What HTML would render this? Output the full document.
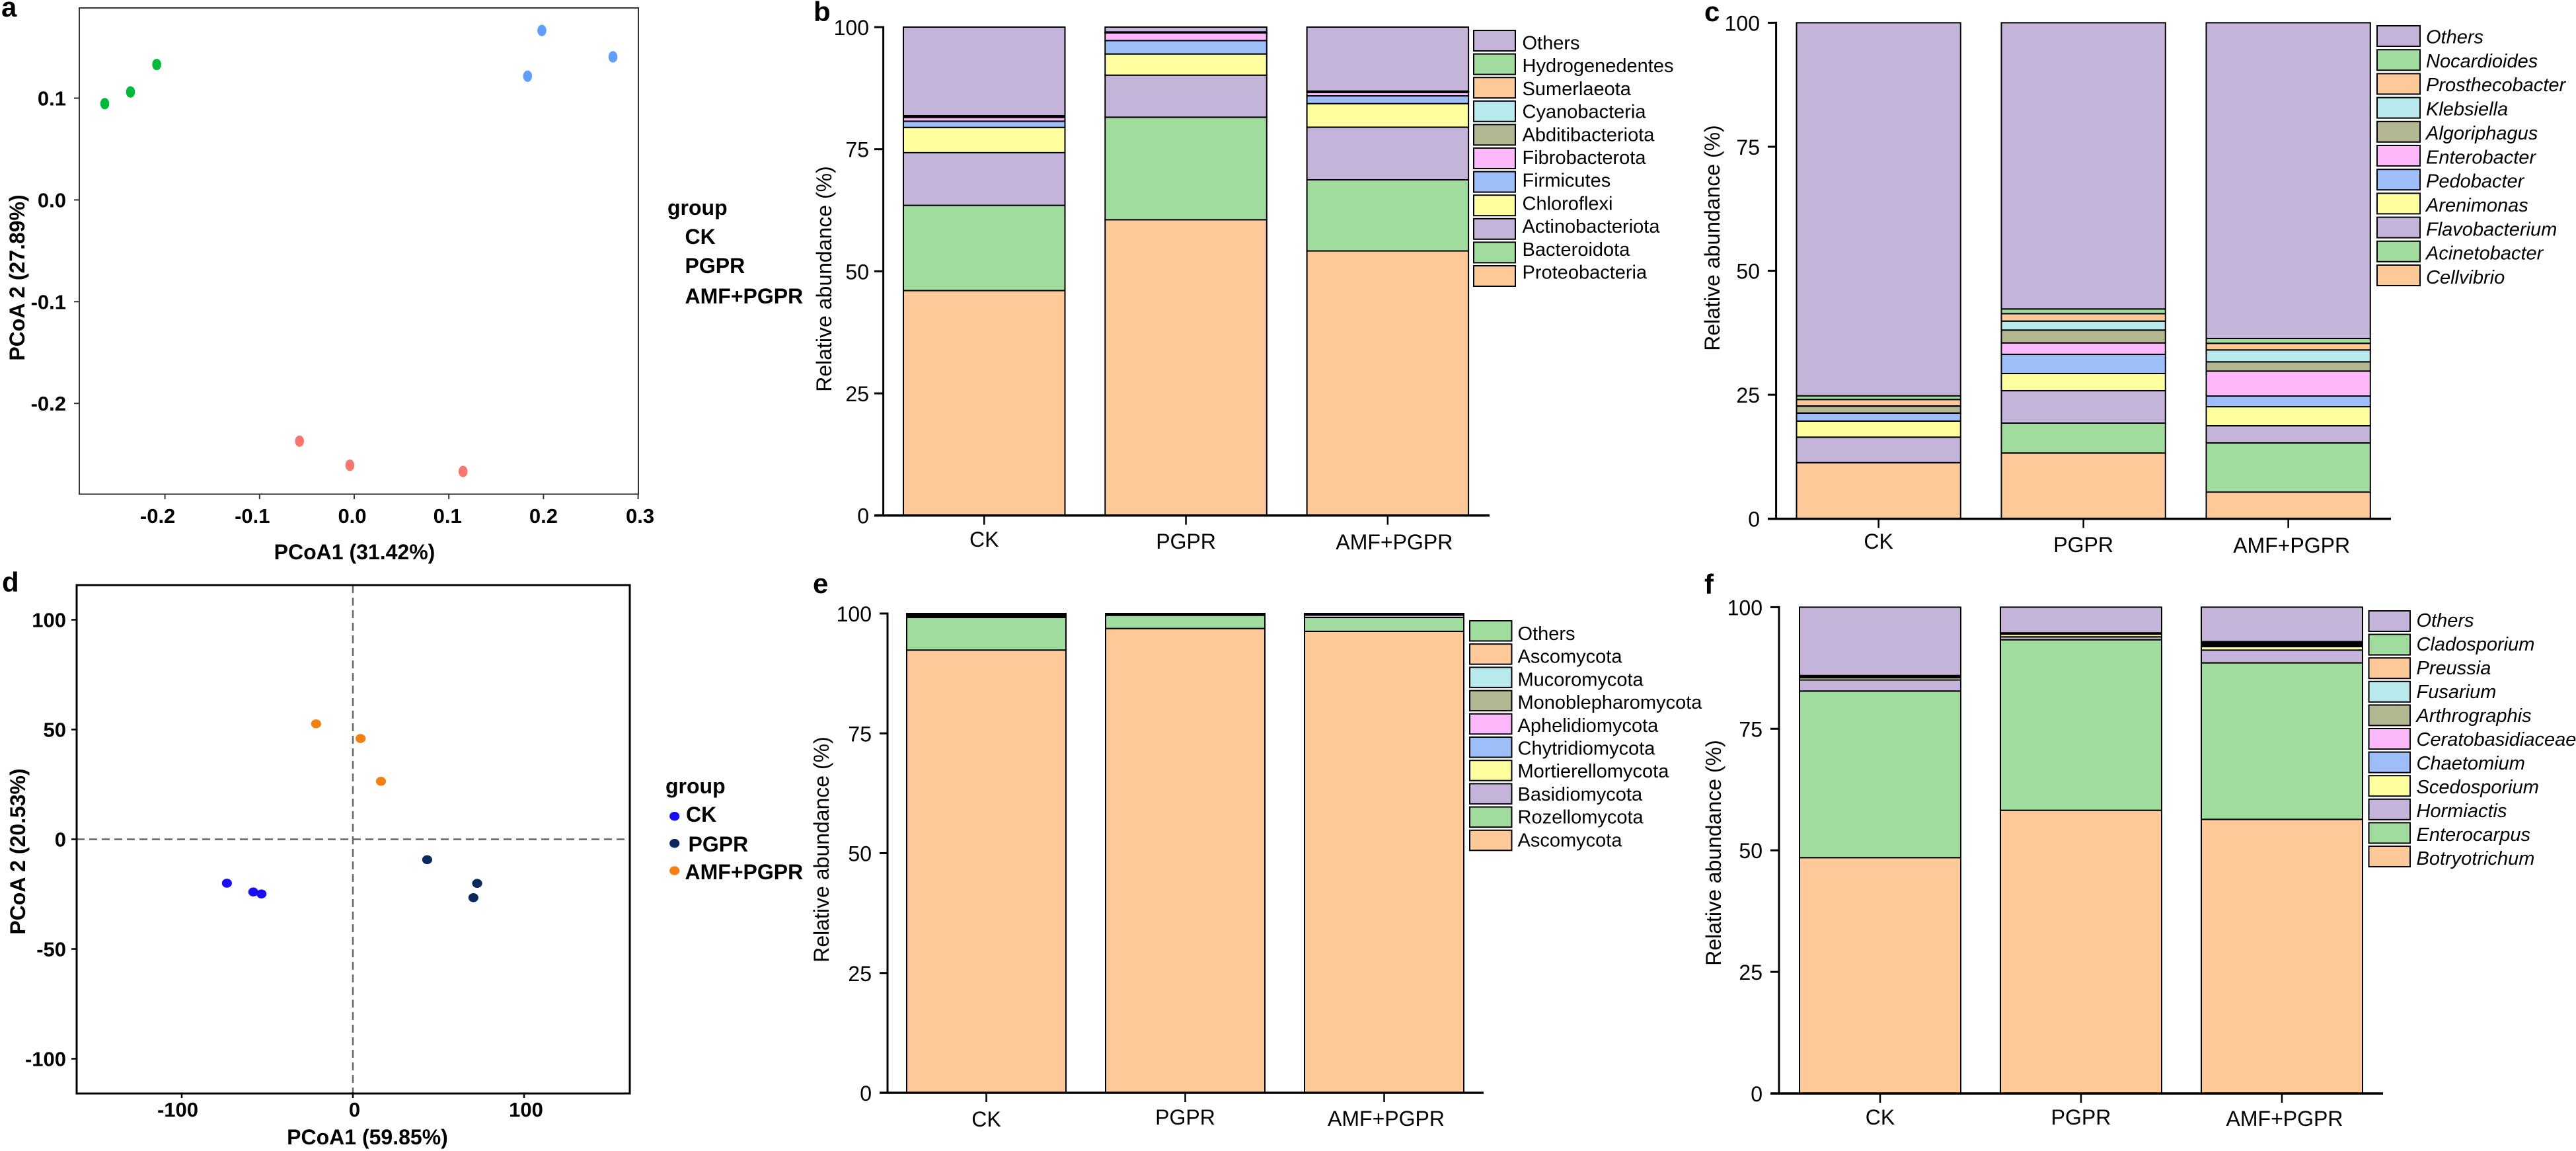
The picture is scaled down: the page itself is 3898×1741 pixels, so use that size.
<!DOCTYPE html>
<html lang="en">
<head>
<meta charset="utf-8">
<title>PCoA and relative abundance panels</title>
<style>
html,body{margin:0;padding:0;background:#fff;}
svg{display:block;font-family:"Liberation Sans",Arial,sans-serif;}
</style>
</head>
<body>
<svg id="figure" xmlns="http://www.w3.org/2000/svg" width="3898" height="1741" viewBox="0 0 3898 1741">
<rect width="3898" height="1741" fill="#ffffff"/>
</svg>
<script>
// ---------- shared data ----------
const groupNames = ['CK', 'PGPR', 'AMF+PGPR'];
const stackPalette = ['#FDC998', '#A0DC9E', '#C4B4DA', '#FFFF9F', '#9EBEFA', '#FDB8FB', '#B2B792', '#B8E9EC', '#FDC998', '#A0DC9E', '#C4B4DA'];
const abundanceTicks = [0, 25, 50, 75, 100];

// ---------- panel a ----------
const aXTicks = [-0.2, -0.1, 0, 0.1, 0.2, 0.3];
const aYTicks = [-0.2, -0.1, 0, 0.1];
const aCKx = [-0.2636, -0.2364, -0.2087];
const aCKy = [0.0946, 0.1061, 0.1331];
const aPGPRx = [0.1832, 0.1983, 0.2734];
const aPGPRy = [0.1216, 0.1665, 0.1406];
const aAMFx = [-0.0578, -0.0046, 0.1150];
const aAMFy = [-0.2371, -0.2608, -0.2669];

// ---------- panel d ----------
const dXTicks = [-100, 0, 100];
const dYTicks = [-100, -50, 0, 50, 100];
const dCKx = [-73.6, -58.2, -53.4];
const dCKy = [-20, -24, -24.9];
const dPGPRx = [43.4, 72.6, 70.4];
const dPGPRy = [-9.3, -20.1, -26.6];
const dAMFx = [-21.5, 4.5, 16.4];
const dAMFy = [52.6, 45.9, 26.4];

// ---------- panel b ----------
const bSeries = ['Proteobacteria', 'Bacteroidota', 'Actinobacteriota', 'Chloroflexi', 'Firmicutes', 'Fibrobacterota', 'Abditibacteriota', 'Cyanobacteria', 'Sumerlaeota', 'Hydrogenedentes', 'Others'];
const bCK = [46.05, 17.45, 10.8, 5.16, 1.27, 0.77, 0.09, 0.09, 0.09, 0.09, 18.14];
const bPGPR = [60.56, 20.99, 8.61, 4.34, 2.75, 1.58, 0.045, 0.045, 0.045, 0.045, 0.99];
const bAMF = [54.17, 14.56, 10.77, 4.84, 1.58, 0.68, 0.075, 0.075, 0.075, 0.075, 13.1];

// ---------- panel c ----------
const cSeries = ['Cellvibrio', 'Acinetobacter', 'Flavobacterium', 'Arenimonas', 'Pedobacter', 'Enterobacter', 'Algoriphagus', 'Klebsiella', 'Prosthecobacter', 'Nocardioides', 'Others'];
const cCK = [11.29, 0.03, 5.13, 3.24, 1.6, 0.03, 1.39, 0.03, 1.31, 0.74, 75.21];
const cPGPR = [13.25, 6.04, 6.53, 3.46, 3.87, 2.31, 2.58, 1.81, 1.5, 0.95, 57.7];
const cAMF = [5.38, 9.91, 3.46, 3.85, 2.15, 5.02, 1.87, 2.4, 1.33, 0.98, 63.65];

// ---------- panel e ----------
const eSeries = ['Ascomycota', 'Rozellomycota', 'Basidiomycota', 'Mortierellomycota', 'Chytridiomycota', 'Aphelidiomycota', 'Monoblepharomycota', 'Mucoromycota', 'Ascomycota', 'Others'];
const eCK = [92.37, 6.8, 0.1, 0.1, 0.1, 0.1, 0.1, 0.1, 0.1, 0.13];
const ePGPR = [96.87, 2.76, 0.046, 0.046, 0.046, 0.046, 0.046, 0.046, 0.046, 0.048];
const eAMF = [96.28, 2.89, 0.51, 0.045, 0.045, 0.045, 0.045, 0.045, 0.045, 0.05];

// ---------- panel f ----------
const fSeries = ['Botryotrichum', 'Enterocarpus', 'Hormiactis', 'Scedosporium', 'Chaetomium', 'Ceratobasidiaceae', 'Arthrographis', 'Fusarium', 'Preussia', 'Cladosporium', 'Others'];
const fCK = [48.5, 34.25, 2.28, 0.45, 0.078, 0.078, 0.078, 0.078, 0.078, 0.078, 14.05];
const fPGPR = [58.23, 35.07, 0.6, 0.55, 0.045, 0.045, 0.045, 0.045, 0.045, 0.045, 5.28];
const fAMF = [56.37, 32.18, 2.62, 0.72, 0.17, 0.17, 0.17, 0.17, 0.17, 0.17, 7.09];

// ---------- helpers ----------
const NS = 'http://www.w3.org/2000/svg';
const root = document.getElementById('figure');

function linear(d0, d1, r0, r1) {
  return function (v) { return r0 + (v - d0) * (r1 - r0) / (d1 - d0); };
}
function node(parent, tag, attrs) {
  const el = document.createElementNS(NS, tag);
  for (const k in attrs) el.setAttribute(k, attrs[k]);
  parent.appendChild(el);
  return el;
}
function group(parent, name) {
  const g = node(parent, 'g', {});
  
  
  return g;
}
function label(parent, name, str, x, y, size, opts) {
  const o = opts || {};
  const el = node(parent, 'text', {
    x: x, y: y, 'font-size': size, fill: '#000',
    'text-anchor': o.anchor || 'start',
    'font-weight': o.bold ? 'bold' : 'normal',
    'font-style': o.italic ? 'italic' : 'normal'
  });
  if (o.rotate) el.setAttribute('transform', 'rotate(-90 ' + x + ' ' + y + ')');
  el.textContent = str;
  
  
  return el;
}
function line(parent, name, x1, y1, x2, y2, stroke, width, dash) {
  const el = node(parent, 'line', { x1: x1, y1: y1, x2: x2, y2: y2, stroke: stroke, 'stroke-width': width });
  if (dash) el.setAttribute('stroke-dasharray', dash);
  
  
  return el;
}

// ---------- stacked bar panels ----------
function stackedPanel(f, seriesNames, stacks) {
  const g = group(root, 'panel-' + f.id);
  const y = linear(0, 100, f.y0, f.y100);
  const center = function (i) { return f.barLeft + f.barWidth / 2 + i * f.barStep; };

  label(g, 'panel-label-' + f.id, f.id, f.letterX, f.letterY, 42, { bold: true });
  label(g, 'y-axis-title-' + f.id, 'Relative abundance (%)', f.titleX, f.titleY, 32, { rotate: true, anchor: 'middle' });

  stacks.forEach(function (values, i) {
    let cum = 0;
    const barG = group(g, 'bar-' + f.id + '-' + groupNames[i]);
    values.forEach(function (v, s) {
      const top = y(cum + v);
      const bottom = y(cum);
      const r = node(barG, 'rect', {
        x: f.barLeft + i * f.barStep, y: top, width: f.barWidth, height: bottom - top,
        fill: stackPalette[s], stroke: '#000', 'stroke-width': 2
      });
      
      
      cum += v;
    });
  });

  line(g, 'y-axis-' + f.id, f.axisX, f.y100 - 1.5, f.axisX, f.y0 + 1.5, '#000', 3);
  line(g, 'x-axis-' + f.id, f.tickLeft, f.y0, f.axisEnd, f.y0, '#000', 3.5);
  abundanceTicks.forEach(function (t) {
    line(g, 'y-tick-' + t, f.tickLeft, y(t), f.axisX, y(t), '#000', 3);
    label(g, 'y-tick-label-' + t, String(t), f.labelRight, y(t) + 12, 32, { anchor: 'end' });
  });
  groupNames.forEach(function (name, i) {
    line(g, 'x-tick-' + name, center(i), f.y0, center(i), f.y0 + 14, '#000', 2.5);
    label(g, 'x-tick-label-' + name, name, center(i) + f.catDx[i], f.catY[i], 32, { anchor: 'middle' });
  });

  const n = seriesNames.length;
  const legend = group(g, 'legend-' + f.id);
  for (let row = 0; row < n; row++) {
    const s = n - 1 - row;
    const sw = node(legend, 'rect', {
      x: f.swatchX, y: f.swatchTop + row * f.swatchStep, width: f.swatchW, height: f.swatchH,
      fill: stackPalette[s], stroke: '#000', 'stroke-width': 2
    });
    
    
    label(legend, 'legend-label-' + seriesNames[s], seriesNames[s], f.legendTextX, f.legendBase + row * f.legendStep, 29, { italic: f.italic });
  }
}

stackedPanel({
  id: 'b', y0: 779.7, y100: 41, barLeft: 1367, barWidth: 244.5, barStep: 305.3,
  axisX: 1336.6, tickLeft: 1323, axisEnd: 2254, labelRight: 1315,
  letterX: 1231, letterY: 32, titleX: 1258, titleY: 422,
  catDx: [0, 0, 10], catY: [827, 830, 831],
  swatchX: 2230, swatchTop: 46, swatchStep: 35.6, swatchW: 63, swatchH: 31,
  legendTextX: 2303.5, legendBase: 74.5, legendStep: 34.7, italic: false
}, bSeries, [bCK, bPGPR, bAMF]);

stackedPanel({
  id: 'c', y0: 784.7, y100: 34.4, barLeft: 2718.5, barWidth: 248.3, barStep: 310,
  axisX: 2687.6, tickLeft: 2675, axisEnd: 3618, labelRight: 2663,
  letterX: 2579, letterY: 32, titleX: 2602, titleY: 360,
  catDx: [0, 0, 5], catY: [830, 835, 836],
  swatchX: 3597, swatchTop: 39, swatchStep: 36.2, swatchW: 65, swatchH: 31,
  legendTextX: 3671, legendBase: 65.5, legendStep: 36.35, italic: true
}, cSeries, [cCK, cPGPR, cAMF]);

stackedPanel({
  id: 'e', y0: 1653, y100: 928, barLeft: 1372, barWidth: 241, barStep: 301,
  axisX: 1343, tickLeft: 1331, axisEnd: 2245, labelRight: 1319,
  letterX: 1230, letterY: 897, titleX: 1254, titleY: 1285,
  catDx: [0, 0, 3], catY: [1704, 1701, 1703],
  swatchX: 2224, swatchTop: 939, swatchStep: 35.2, swatchW: 63.5, swatchH: 30.5,
  legendTextX: 2296.5, legendBase: 968, legendStep: 34.7, italic: false
}, eSeries, [eCK, ePGPR, eAMF]);

stackedPanel({
  id: 'f', y0: 1654, y100: 918.4, barLeft: 2723, barWidth: 244, barStep: 304,
  axisX: 2692, tickLeft: 2679, axisEnd: 3606, labelRight: 2667,
  letterX: 2579, letterY: 898, titleX: 2604, titleY: 1290,
  catDx: [0, 0, 4], catY: [1701, 1701, 1703],
  swatchX: 3584.5, swatchTop: 924, swatchStep: 35.6, swatchW: 62.5, swatchH: 31,
  legendTextX: 3656.5, legendBase: 948, legendStep: 36, italic: true
}, fSeries, [fCK, fPGPR, fAMF]);

// ---------- PCoA panel a ----------
(function () {
  const g = group(root, 'panel-a');
  const x = linear(0, 0.1, 536, 679.2);
  const y = linear(0, 0.1, 302.4, 148.5);
  const tickLabelDx = [-11, -11, -3, -2, 0, 3];
  label(g, 'panel-label-a', 'a', 2, 25, 42, { bold: true });
  const box = node(g, 'rect', { x: 120, y: 12, width: 846, height: 735.5, fill: 'none', stroke: '#333', 'stroke-width': 2 });
  
  
  aXTicks.forEach(function (t, i) {
    line(g, 'x-tick', x(t), 747.5, x(t), 755, '#333', 2);
    label(g, 'x-tick-label', t.toFixed(1), x(t) + tickLabelDx[i], 791, 31, { anchor: 'middle', bold: true });
  });
  aYTicks.forEach(function (t) {
    line(g, 'y-tick', 112, y(t), 120, y(t), '#333', 2);
    label(g, 'y-tick-label', t.toFixed(1), 100, y(t) + 11, 31, { anchor: 'end', bold: true });
  });
  const series = [[aCKx, aCKy, '#00BA38'], [aPGPRx, aPGPRy, '#619CFF'], [aAMFx, aAMFy, '#F8766D']];
  series.forEach(function (sr, k) {
    sr[0].forEach(function (v, i) {
      const pt = node(g, 'ellipse', { cx: x(v), cy: y(sr[1][i]), rx: 6.8, ry: 8.6, fill: sr[2] });
      
      
    });
  });
  label(g, 'x-axis-title-a', 'PCoA1 (31.42%)', 536.5, 846, 32, { anchor: 'middle', bold: true });
  label(g, 'y-axis-title-a', 'PCoA 2 (27.89%)', 37, 420, 32, { anchor: 'middle', bold: true, rotate: true });
  const lg = group(g, 'legend-a');
  label(lg, 'legend-title', 'group', 1010, 325, 32, { bold: true });
  label(lg, 'legend-label-CK', groupNames[0], 1036.5, 369, 32, { bold: true });
  label(lg, 'legend-label-PGPR', groupNames[1], 1036.5, 413, 32, { bold: true });
  label(lg, 'legend-label-AMF-PGPR', groupNames[2], 1036.5, 459, 32, { bold: true });
})();

// ---------- PCoA panel d ----------
(function () {
  const g = group(root, 'panel-d');
  const x = linear(0, 100, 534, 793);
  const y = linear(0, 100, 1269.5, 937.5);
  const tickLabelDx = [-6, 2.5, 3];
  label(g, 'panel-label-d', 'd', 3, 895, 42, { bold: true });
  line(g, 'zero-line-horizontal', 116, y(0), 953, y(0), '#666', 2.5, '12 7');
  line(g, 'zero-line-vertical', x(0), 885, x(0), 1654, '#666', 2.5, '12 7');
  const box = node(g, 'rect', { x: 116, y: 885, width: 837, height: 769, fill: 'none', stroke: '#000', 'stroke-width': 3 });
  
  
  dXTicks.forEach(function (t, i) {
    line(g, 'x-tick', x(t), 1654, x(t), 1661, '#000', 2.5);
    label(g, 'x-tick-label', String(t), x(t) + tickLabelDx[i], 1689, 31, { anchor: 'middle', bold: true });
  });
  dYTicks.forEach(function (t) {
    line(g, 'y-tick', 108, y(t), 116, y(t), '#000', 2.5);
    label(g, 'y-tick-label', String(t), 100, y(t) + 11, 31, { anchor: 'end', bold: true });
  });
  const series = [[dCKx, dCKy, '#1A0FF0'], [dPGPRx, dPGPRy, '#0A2A5E'], [dAMFx, dAMFy, '#F57F10']];
  series.forEach(function (sr, k) {
    sr[0].forEach(function (v, i) {
      const pt = node(g, 'ellipse', { cx: x(v), cy: y(sr[1][i]), rx: 7.6, ry: 6.8, fill: sr[2] });
      
      
    });
  });
  label(g, 'x-axis-title-d', 'PCoA1 (59.85%)', 556, 1731, 32, { anchor: 'middle', bold: true });
  label(g, 'y-axis-title-d', 'PCoA 2 (20.53%)', 38, 1288, 32, { anchor: 'middle', bold: true, rotate: true });
  const lg = group(g, 'legend-d');
  label(lg, 'legend-title', 'group', 1007, 1200, 32, { bold: true });
  const textX = [1038, 1041.5, 1036.5];
  const textY = [1243, 1288, 1330];
  const dotY = [1234.7, 1275.7, 1317];
  groupNames.forEach(function (name, k) {
    const d = node(lg, 'ellipse', { cx: 1020.7, cy: dotY[k], rx: 7.6, ry: 6.8, fill: series[k][2] });
    
    
    label(lg, 'legend-label-' + name, name, textX[k], textY[k], 32, { bold: true });
  });
})();
</script>
</body>
</html>
